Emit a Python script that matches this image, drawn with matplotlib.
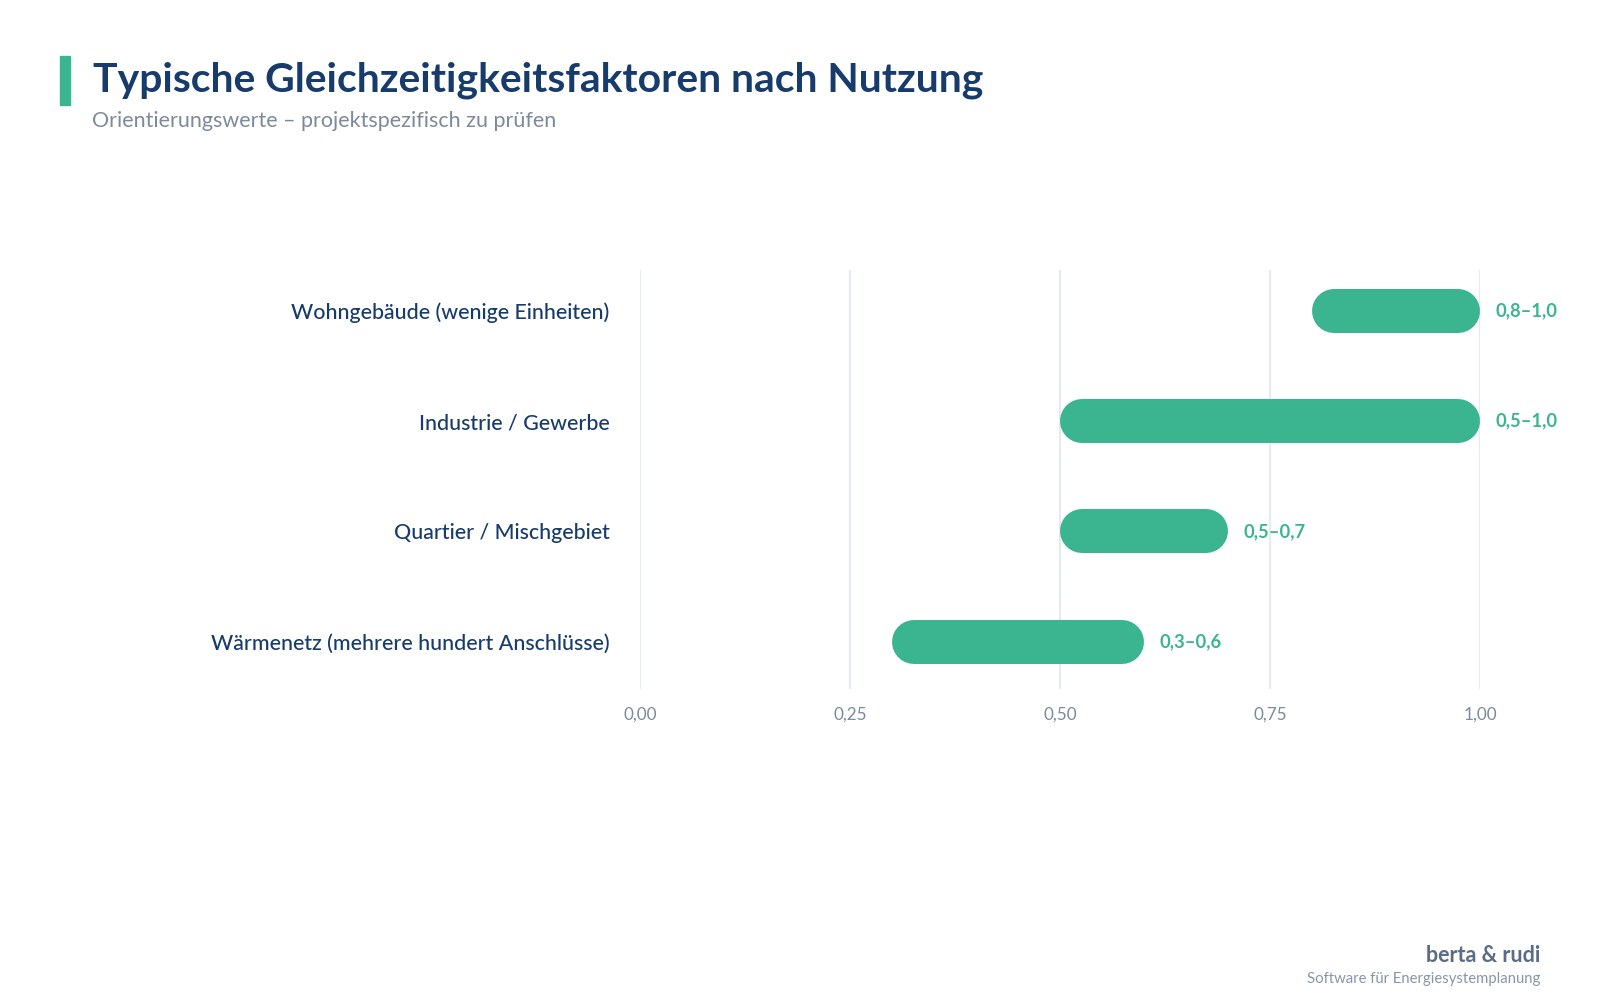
import matplotlib
matplotlib.use("Agg")
import matplotlib.pyplot as plt
from matplotlib.patches import Rectangle

plt.rcParams['font.family'] = ['Lato', 'DejaVu Sans']

# data
kategorien = ['Wohngebäude (wenige Einheiten)', 'Industrie / Gewerbe',
              'Quartier / Mischgebiet', 'Wärmenetz (mehrere hundert Anschlüsse)']
von = [0.8, 0.5, 0.5, 0.3]
bis = [1.0, 1.0, 0.7, 0.6]
labels = ['0,8–1,0', '0,5–1,0', '0,5–0,7', '0,3–0,6']
xticks = [0.0, 0.25, 0.5, 0.75, 1.0]
xticklabels = ['0,00', '0,25', '0,50', '0,75', '1,00']

gruen = '#3bb58f'
navy = '#173c6b'
grau = '#7d8a9c'

fig = plt.figure(figsize=(16, 10), dpi=100)
ax = fig.add_axes([0.4, 0.311, 0.525, 0.419])
ax.set_xlim(0, 1)
ax.set_ylim(3.43, -0.37)

bar_px = 44
lw = bar_px * 72 / fig.dpi
# radius of the round cap in data units
r = (bar_px / 2) / (0.525 * 1600)

for i in range(len(kategorien)):
    ax.plot([von[i] + r, bis[i] - r], [i, i], color=gruen, lw=lw,
            solid_capstyle='round', zorder=3)
    ax.text(bis[i] + 0.019, i, labels[i], color=gruen, fontsize=13.2,
            fontweight='bold', va='center', ha='left')

for x in xticks:
    ax.axvline(x, color='#e6ebf2', lw=1.6, zorder=1)

ax.set_yticks(range(len(kategorien)))
ax.set_yticklabels(kategorien, color=navy, fontsize=15.4, fontweight='medium')
ax.set_xticks(xticks)
ax.set_xticklabels(xticklabels, color=grau, fontsize=12.3)
ax.tick_params(axis='y', length=0, pad=22)
ax.tick_params(axis='x', length=0, pad=13)
for s in ax.spines.values():
    s.set_visible(False)

# header
fig.patches.append(Rectangle((60 / 1600, 1 - 105 / 1000), 10 / 1600, 49 / 1000,
                             transform=fig.transFigure, color=gruen))
fig.text(93 / 1600, 1 - 80 / 1000, 'Typische Gleichzeitigkeitsfaktoren nach Nutzung',
         color=navy, fontsize=29.4, fontweight='bold', va='center', ha='left')
fig.text(92 / 1600, 1 - 121 / 1000, 'Orientierungswerte – projektspezifisch zu prüfen',
         color=grau, fontsize=15.5, va='center', ha='left')

# footer
fig.text(1540 / 1600, 1 - 955 / 1000, 'berta & rudi', color='#5b6c85',
         fontsize=15.5, fontweight='bold', ha='right', va='center')
fig.text(1540 / 1600, 1 - 979 / 1000, 'Software für Energiesystemplanung',
         color='#8a96a8', fontsize=10.7, ha='right', va='center')

fig.savefig('out.png', dpi=100, facecolor='white')
